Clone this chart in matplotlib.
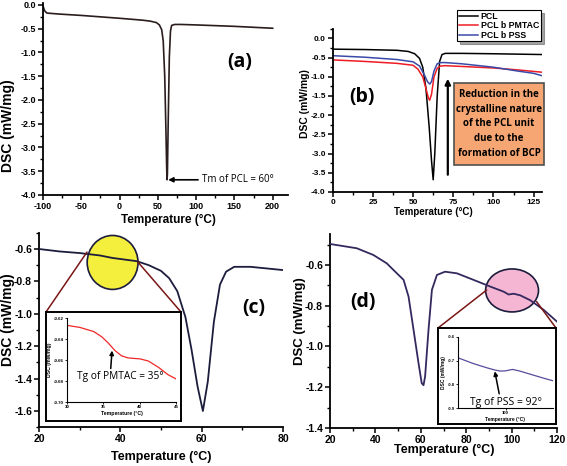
"""DSC thermograms of PCL and block copolymers, four panels"""
import matplotlib
matplotlib.use("Agg")
import matplotlib.pyplot as plt
from matplotlib.patches import Ellipse, Rectangle, ConnectionPatch
from matplotlib.ticker import MultipleLocator

W, H = 567, 466

# panel (a): PCL
a_temp = [-100, -98, -95, -80, -50, 0, 30, 40, 48, 52, 55, 57, 59, 60.5, 61.5, 62,
          62.5, 63.5, 65, 66.5, 68, 72, 80, 100, 150, 200]
a_dsc = [-0.02, -0.12, -0.17, -0.19, -0.22, -0.28, -0.32, -0.34, -0.37, -0.42, -0.52,
         -0.75, -1.5, -2.6, -3.4, -3.68, -3.55, -2.5, -1.1, -0.55, -0.43, -0.41, -0.41,
         -0.42, -0.45, -0.49]

# panel (b): three samples
b_temp_pcl = [0, 20, 40, 47, 51, 54, 56, 58, 60, 61.5, 62.5, 63.5, 65, 66.5, 68, 70,
              80, 100, 130]
b_pcl = [-0.28, -0.29, -0.31, -0.34, -0.40, -0.52, -0.75, -1.3, -2.3, -3.2, -3.68,
         -3.0, -1.5, -0.6, -0.42, -0.39, -0.39, -0.40, -0.42]
b_temp_pmtac = [0, 20, 40, 50, 53, 56, 58, 59.5, 60.3, 61.5, 63, 65, 67, 70, 80, 100,
                115, 130]
b_pmtac = [-0.56, -0.60, -0.65, -0.70, -0.80, -1.00, -1.30, -1.55, -1.61, -1.45, -1.0,
           -0.78, -0.72, -0.71, -0.73, -0.77, -0.82, -0.88]
b_temp_pss = [0, 20, 40, 50, 54, 57, 59, 60.4, 61.5, 63, 65, 67, 70, 80, 100, 115,
              125, 130]
b_pss = [-0.45, -0.49, -0.55, -0.61, -0.72, -0.95, -1.13, -1.19, -1.12, -0.85, -0.66,
         -0.63, -0.63, -0.66, -0.75, -0.85, -0.91, -0.97]
b_labels = ["PCL", "PCL b PMTAC", "PCL b PSS"]

# panel (c): PCL-b-PMTAC and its inset
c_temp = [20, 25, 30, 35, 38, 41, 44, 47, 50, 52, 54, 56, 57.5, 59, 60.3, 61.5, 63,
          64.5, 66, 68, 72, 80]
c_dsc = [-0.60, -0.615, -0.625, -0.64, -0.655, -0.665, -0.675, -0.70, -0.735, -0.78,
         -0.86, -1.02, -1.22, -1.45, -1.60, -1.42, -1.05, -0.82, -0.74, -0.71, -0.71,
         -0.73]
ci_temp = [30, 31.8, 33.7, 34.8, 35.7, 36.6, 37.5, 38.4, 40.1, 41.2, 42.6, 43.9, 45]
ci_dsc = [-0.627, -0.629, -0.633, -0.638, -0.644, -0.651, -0.656, -0.658, -0.659,
          -0.661, -0.667, -0.674, -0.678]

# panel (d): PCL-b-PSS and its inset
d_temp = [20, 31.8, 39.1, 45, 47.9, 52.4, 54.6, 56.8, 59, 60.4, 61.2, 61.9, 63.4,
          64.9, 67.1, 70.7, 75.9, 83.2, 90.6, 96.5, 98.7, 100.9, 103.8, 108.2, 114.1,
          120]
d_dsc = [-0.497, -0.518, -0.551, -0.592, -0.624, -0.673, -0.755, -0.918, -1.082,
         -1.18, -1.19, -1.147, -0.918, -0.722, -0.649, -0.633, -0.641, -0.673, -0.706,
         -0.731, -0.745, -0.741, -0.749, -0.773, -0.82, -0.878]
di_temp = [80, 86.4, 92.1, 95.7, 97.9, 100, 102.9, 105.7, 110.7, 116.4, 120]
di_dsc = [-0.688, -0.712, -0.730, -0.740, -0.744, -0.743, -0.737, -0.743, -0.758,
          -0.775, -0.785]

plt.rcParams["font.family"] = ["Liberation Sans", "DejaVu Sans"]
plt.rcParams["axes.unicode_minus"] = False
LABEL_FONT = ["Open Sans", "DejaVu Sans"]


def px_rect(x0, y0, x1, y1):
    """Converts a pixel box (top-left origin) to a figure fraction rect"""
    return [x0 / W, 1 - y1 / H, (x1 - x0) / W, (y1 - y0) / H]


def style_axes(axes, xmaj, ymaj, tick_size, xlab, ylab):
    """Left/bottom spines, outward ticks, bold labels placed at pixel centres
    xlab, ylab = (x_px, y_px, fontsize)"""
    for side in ("top", "right"):
        axes.spines[side].set_visible(False)
    for side in ("left", "bottom"):
        axes.spines[side].set_linewidth(1.3)
    axes.patch.set_alpha(0)
    axes.xaxis.set_major_locator(MultipleLocator(xmaj))
    axes.xaxis.set_minor_locator(MultipleLocator(xmaj / 2))
    axes.yaxis.set_major_locator(MultipleLocator(ymaj))
    axes.yaxis.set_minor_locator(MultipleLocator(ymaj / 2))
    axes.tick_params(which="major", direction="out", length=3.5, width=1.1,
                     labelsize=tick_size, pad=1.5)
    axes.tick_params(which="minor", direction="out", length=2, width=1)
    for lab in axes.get_xticklabels() + axes.get_yticklabels():
        lab.set_fontweight("bold")
    axes.set_xlabel("Temperature (°C)", fontsize=xlab[2], fontweight="bold",
                    va="center")
    axes.set_ylabel("DSC (mW/mg)", fontsize=ylab[2], fontweight="bold",
                    va="center", ha="center")
    axes.xaxis.set_label_coords(xlab[0] / W, 1 - xlab[1] / H, transform=fig.transFigure)
    axes.yaxis.set_label_coords(ylab[0] / W, 1 - ylab[1] / H, transform=fig.transFigure)


def style_inset(axes, tick_size):
    """Tiny inner plot of a zoom inset"""
    for side in ("top", "right"):
        axes.spines[side].set_visible(False)
    axes.tick_params(direction="out", length=1.5, width=0.6, labelsize=tick_size, pad=1)
    for lab in axes.get_xticklabels() + axes.get_yticklabels():
        lab.set_fontweight("bold")
    axes.set_xlabel("Temperature (°C)", fontsize=tick_size + 0.5, fontweight="bold",
                    labelpad=1)
    axes.set_ylabel("DSC (mW/mg)", fontsize=tick_size + 0.5, fontweight="bold",
                    labelpad=1)


def frame_box(rect):
    """Outer white box around an inset"""
    frame = fig.add_axes(rect, zorder=3)
    frame.set_xticks([])
    frame.set_yticks([])
    for side in frame.spines.values():
        side.set_linewidth(1.4)
    return frame


fig = plt.figure(figsize=(W / 100, H / 100), dpi=100)

# ---- (a)
ax_a = fig.add_axes(px_rect(43, 2.6, 288, 195))
ax_a.plot(a_temp, a_dsc, color="#2b1d1d", lw=1.2)
ax_a.set_xlim(-100, 220)
ax_a.set_ylim(-4, 0.05)
style_axes(ax_a, 50, 0.5, 6.5, (168, 220, 8.5), (8, 126, 10))
ax_a.annotate("Tm of PCL = 60°", xy=(63.5, -3.68), xytext=(108, -3.68),
              fontsize=7, family=LABEL_FONT, va="center", ha="left",
              arrowprops=dict(arrowstyle="-|>", color="black", lw=1.2,
                              mutation_scale=7, shrinkA=1, shrinkB=0))
fig.text(240 / W, 1 - 62 / H, "(a)", fontsize=14, fontweight="bold",
         family=LABEL_FONT, ha="center", va="center")

# ---- (b)
ax_b = fig.add_axes(px_rect(332.7, 28.8, 541.7, 192))
ax_b.plot(b_temp_pcl, b_pcl, color="black", lw=1.1, label=b_labels[0])
ax_b.plot(b_temp_pmtac, b_pmtac, color="#ee1c24", lw=1.1, label=b_labels[1])
ax_b.plot(b_temp_pss, b_pss, color="#3a4aa8", lw=1.1, label=b_labels[2])
ax_b.set_xlim(0, 130)
ax_b.set_ylim(-4, 0.25)
style_axes(ax_b, 25, 0.5, 6, (433, 212, 7), (305, 104, 7.5))
leg = ax_b.legend(loc="upper left", bbox_to_anchor=(457 / W, 1 - 10 / H),
                  bbox_transform=fig.transFigure, fancybox=False, shadow=True,
                  framealpha=1, edgecolor="black", handlelength=2.2,
                  handletextpad=0.3, borderpad=0.2, labelspacing=0.05,
                  borderaxespad=0, prop=dict(size=6.3, weight="bold"))
leg.get_frame().set_linewidth(0.8)
ax_b.annotate("", xy=(71.6, -1.05), xytext=(71.6, -3.55),
              arrowprops=dict(arrowstyle="-|>", color="black", lw=1.6,
                              mutation_scale=8, shrinkA=0, shrinkB=0))
fig.patches.append(Rectangle((454 / W, 1 - 165 / H), 90 / W, 82 / H,
                             transform=fig.transFigure, facecolor="#f6a672",
                             edgecolor="#505050", lw=1.2))
fig.text(499 / W, 1 - 124 / H,
         "Reduction in the\ncrystalline nature\nof the PCL unit\ndue to the\nformation of BCP",
         fontsize=7, fontweight="bold", family=LABEL_FONT, ha="center", va="center",
         linespacing=1.45)
fig.text(362 / W, 1 - 97 / H, "(b)", fontsize=14, fontweight="bold",
         family=LABEL_FONT, ha="center", va="center")

# ---- (c)
ax_c = fig.add_axes(px_rect(39, 232.8, 283, 427.2))
ax_c.plot(c_temp, c_dsc, color="#1c1c3c", lw=1.3, zorder=3)
ax_c.set_xlim(20, 80)
ax_c.set_ylim(-1.7, -0.5)
style_axes(ax_c, 20, 0.2, 7.5, (161, 457, 9), (8, 320, 10))
ax_c.add_patch(Ellipse((38.1, -0.683), 12.5, 0.333, facecolor="#f4ee3c",
                       edgecolor="#1c1c3c", lw=1.2, zorder=2))
fig.text(254 / W, 1 - 308 / H, "(c)", fontsize=14, fontweight="bold",
         family=LABEL_FONT, ha="center", va="center")

frame_c = frame_box(px_rect(46, 312, 181, 421))
for xy_data, xy_frame in (((31.8, -0.619), (0, 1)), ((44.3, -0.68), (1, 1))):
    fig.add_artist(ConnectionPatch(xyA=xy_data, coordsA=ax_c.transData,
                                   xyB=xy_frame, coordsB=frame_c.transAxes,
                                   color="#7a1616", lw=1.1, zorder=2.5))
ax_ci = fig.add_axes(px_rect(67, 318, 176, 402), zorder=4)
ax_ci.plot(ci_temp, ci_dsc, color="#f02828", lw=0.9)
ax_ci.set_xlim(30, 45)
ax_ci.set_ylim(-0.70, -0.62)
ax_ci.set_xticks([30, 35, 40, 45])
ax_ci.set_yticks([-0.70, -0.68, -0.66, -0.64, -0.62])
style_inset(ax_ci, 3.2)
ax_ci.annotate("Tg of PMTAC = 35°", xy=(36.2, -0.651), xytext=(37.3, -0.676),
               fontsize=7.3, family=LABEL_FONT, ha="center", va="center",
               arrowprops=dict(arrowstyle="-|>", color="black", lw=1.1,
                               mutation_scale=6, shrinkA=0, shrinkB=0,
                               relpos=(0.39, 1)))

# ---- (d)
ax_d = fig.add_axes(px_rect(330, 234.4, 557, 428))
ax_d.plot(d_temp, d_dsc, color="#34285e", lw=1.3, zorder=3)
ax_d.set_xlim(20, 120)
ax_d.set_ylim(-1.4, -0.45)
style_axes(ax_d, 20, 0.2, 7.5, (444, 450, 9), (299.5, 321, 9.5))
ax_d.add_patch(Ellipse((100.2, -0.725), 23.3, 0.211, facecolor="#f4b6d2",
                       edgecolor="#1c1c3c", lw=1.2, zorder=2))
fig.text(363 / W, 1 - 302 / H, "(d)", fontsize=14, fontweight="bold",
         family=LABEL_FONT, ha="center", va="center")

frame_d = frame_box(px_rect(438, 328, 556, 424))
for xy_data, xy_frame in (((89, -0.723), (0, 1)), ((111, -0.78), (1, 1))):
    fig.add_artist(ConnectionPatch(xyA=xy_data, coordsA=ax_d.transData,
                                   xyB=xy_frame, coordsB=frame_d.transAxes,
                                   color="#7a1616", lw=1.1, zorder=2.5))
ax_di = fig.add_axes(px_rect(458, 337, 553, 408), zorder=4)
ax_di.plot(di_temp, di_dsc, color="#5a4a9c", lw=0.9)
ax_di.set_xlim(80, 120)
ax_di.set_ylim(-0.9, -0.6)
ax_di.set_xticks([100])
ax_di.set_yticks([-0.9, -0.8, -0.7, -0.6])
style_inset(ax_di, 3)
ax_di.annotate("Tg of PSS = 92°", xy=(95.5, -0.745), xytext=(100, -0.875),
               fontsize=7.5, family=LABEL_FONT, ha="center", va="center",
               arrowprops=dict(arrowstyle="-|>", color="black", lw=1.1,
                               mutation_scale=6, shrinkA=0, shrinkB=0,
                               relpos=(0.42, 1)))

fig.savefig("out.png", dpi=100)
